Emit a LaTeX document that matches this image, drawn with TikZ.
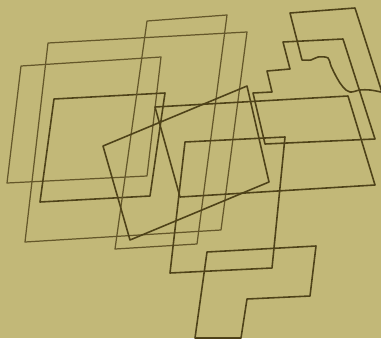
\documentclass[tikz,border=0pt]{standalone}
\usepackage{tikz}
\definecolor{Khaki}{HTML}{C2B878}
\definecolor{Ink}{HTML}{4E4219}
\definecolor{PaleInk}{HTML}{64572A}

\begin{document}
\begin{tikzpicture}[x=0.02cm, y=-0.02cm, line join=round, line cap=round]
\tikzset{outline/.style={draw=Ink, line width=0.9pt}, faintoutline/.style={draw=PaleInk, line width=0.7pt}}
\fill[Khaki] (0,0) rectangle (381,338);
\clip (0,0) rectangle (381,338);
% left frames
\draw[faintoutline] (21,66) -- (161,57) -- (147,176) -- (7,183) -- cycle;
\draw[faintoutline] (48,43) -- (247,32) -- (221,230) -- (25,242) -- cycle;
\draw[outline] (54,99) -- (165,93) -- (150,196) -- (40,202) -- cycle;
\draw[faintoutline] (147,21) -- (227,15) -- (197,244) -- (115,249) -- cycle;
% tilted square and middle frames
\draw[outline] (103,146) -- (247,86) -- (269,182) -- (130,240) -- cycle;
\draw[outline] (155,107) -- (348,96) -- (375,185) -- (180,197) -- cycle;
\draw[outline] (185,142) -- (285,137) -- (272,268) -- (170,273) -- cycle;
% right stepped shapes
\draw[outline] (343,39) -- (283,42) -- (290,69) -- (267,71) -- (272,92) -- (253,93) -- (265,144) -- (375,139) -- cycle;
\draw[outline] (386,105) -- (355,8) -- (290,13) -- (302,60)
  plot[smooth, tension=0.6] coordinates {(302,60) (311,60) (318,57) (328,58) (331,66) (337,78) (343,87) (350,92) (360,90) (370,90) (381,92) (386,93)};
\draw[outline] (207,252) -- (316,246) -- (310,296) -- (247,299) -- (241,338) -- (195,338) -- cycle;
\end{tikzpicture}
\end{document}
